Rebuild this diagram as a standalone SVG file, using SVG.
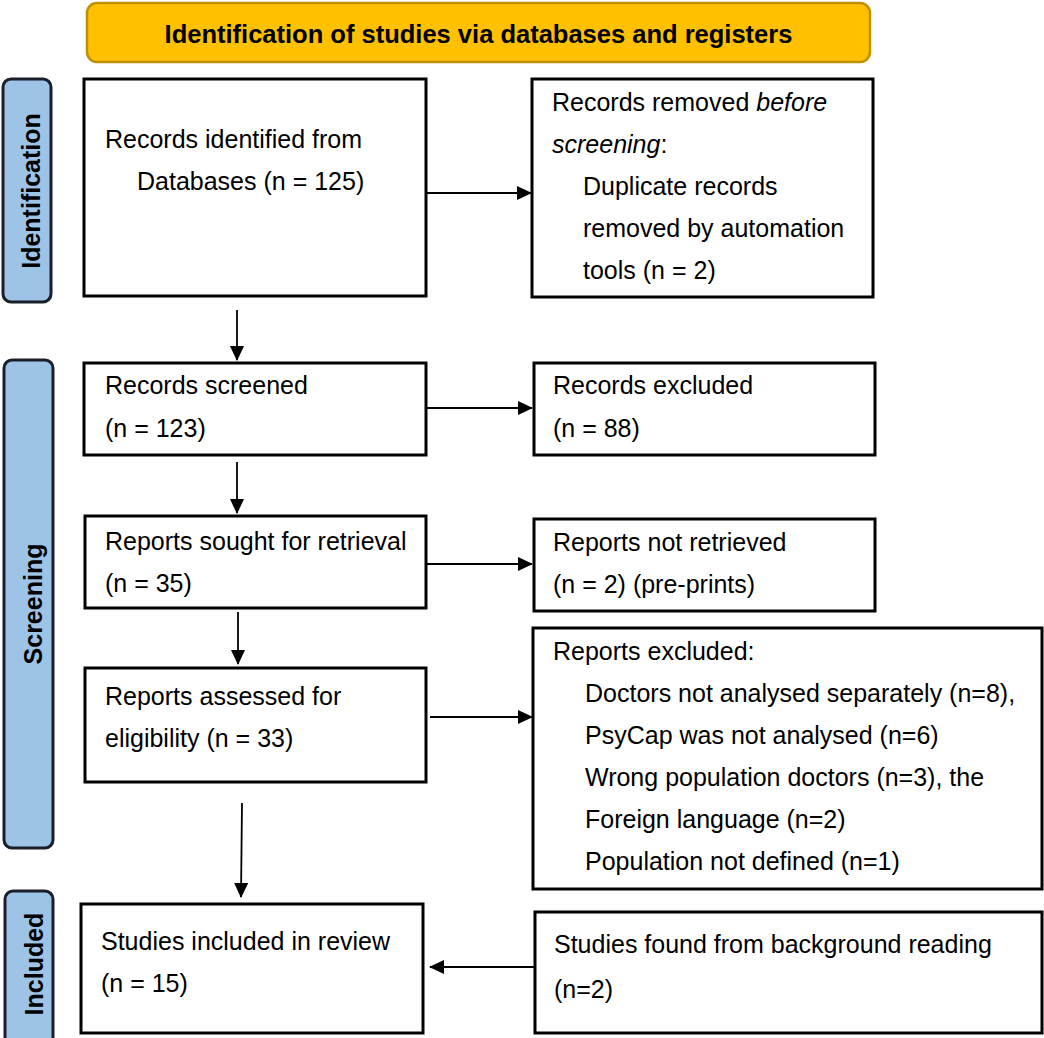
<svg xmlns="http://www.w3.org/2000/svg" width="1044" height="1038" viewBox="0 0 1044 1038">
<style>
text{font-family:"Liberation Sans",Arial,sans-serif;fill:#000}
.t{font-size:25px}
.hd{font-size:25.5px;font-weight:bold}
.side{font-size:25px;font-weight:bold}
.box{fill:#fff;stroke:#000;stroke-width:3}
.lab{fill:#9DC3E6;stroke:#1a1f2b;stroke-width:3}
.con{stroke:#000;stroke-width:1.8;fill:none}
</style>
<defs>
<marker id="ah" markerUnits="userSpaceOnUse" markerWidth="15" markerHeight="14" refX="14" refY="7" orient="auto">
<path d="M0,0 L15,7 L0,14 Z" fill="#000"/>
</marker>
</defs>
<rect width="1044" height="1038" fill="#fff"/>

<g id="header">
<rect x="87" y="3" width="783" height="59" rx="10" fill="#FFC000" stroke="#BF9000" stroke-width="2.5"/>
<text class="hd" x="478.5" y="43" text-anchor="middle">Identification of studies via databases and registers</text>
</g>

<g id="lab-identification">
<rect class="lab" x="3" y="79" width="48" height="223" rx="8"/>
<text class="side" transform="translate(40,191) rotate(-90)" text-anchor="middle">Identification</text>
</g>
<g id="lab-screening">
<rect class="lab" x="4" y="360" width="49" height="488" rx="8"/>
<text class="side" transform="translate(42,604) rotate(-90)" text-anchor="middle">Screening</text>
</g>
<g id="lab-included">
<rect class="lab" x="5" y="891" width="48" height="160" rx="8"/>
<text class="side" transform="translate(43,964) rotate(-90)" text-anchor="middle">Included</text>
</g>

<g id="n-identified">
<rect class="box" x="84" y="79" width="342" height="217"/>
<text class="t" x="105" y="148">Records identified from</text>
<text class="t" x="137" y="190">Databases (n = 125)</text>
</g>
<g id="n-removed">
<rect class="box" x="532" y="79" width="341" height="218"/>
<text class="t" x="552" y="111">Records removed <tspan font-style="italic">before</tspan></text>
<text class="t" x="552" y="153"><tspan font-style="italic">screening</tspan>:</text>
<text class="t" x="583" y="195">Duplicate records</text>
<text class="t" x="583" y="237">removed by automation</text>
<text class="t" x="583" y="279">tools (n = 2)</text>
</g>
<g id="n-screened">
<rect class="box" x="84" y="363" width="342" height="92"/>
<text class="t" x="105" y="394">Records screened</text>
<text class="t" x="105" y="437">(n = 123)</text>
</g>
<g id="n-excluded">
<rect class="box" x="534" y="363" width="341" height="92"/>
<text class="t" x="553" y="394">Records excluded</text>
<text class="t" x="553" y="437">(n = 88)</text>
</g>
<g id="n-sought">
<rect class="box" x="85" y="516" width="341" height="92"/>
<text class="t" x="105" y="550">Reports sought for retrieval</text>
<text class="t" x="105" y="592">(n = 35)</text>
</g>
<g id="n-notretrieved">
<rect class="box" x="534" y="519" width="341" height="92"/>
<text class="t" x="553" y="551">Reports not retrieved</text>
<text class="t" x="553" y="593">(n = 2) (pre-prints)</text>
</g>
<g id="n-assessed">
<rect class="box" x="85" y="668" width="341" height="114"/>
<text class="t" x="105" y="705">Reports assessed for</text>
<text class="t" x="105" y="747">eligibility (n = 33)</text>
</g>
<g id="n-repexcluded">
<rect class="box" x="533" y="628" width="509" height="261"/>
<text class="t" x="553" y="660">Reports excluded:</text>
<text class="t" x="585" y="702">Doctors not analysed separately (n=8),</text>
<text class="t" x="585" y="744">PsyCap was not analysed (n=6)</text>
<text class="t" x="585" y="786">Wrong population doctors (n=3), the</text>
<text class="t" x="585" y="828">Foreign language (n=2)</text>
<text class="t" x="585" y="870">Population not defined (n=1)</text>
</g>
<g id="n-included">
<rect class="box" x="81" y="904" width="342" height="129"/>
<text class="t" x="101" y="950">Studies included in review</text>
<text class="t" x="101" y="992">(n = 15)</text>
</g>
<g id="n-background">
<rect class="box" x="535" y="912" width="507" height="121"/>
<text class="t" x="554" y="953">Studies found from background reading</text>
<text class="t" x="554" y="998">(n=2)</text>
</g>

<g id="connectors">
<line class="con" x1="426" y1="193" x2="531" y2="193" marker-end="url(#ah)"/>
<line class="con" x1="237" y1="310" x2="237" y2="360" marker-end="url(#ah)"/>
<line class="con" x1="426" y1="408" x2="532" y2="408" marker-end="url(#ah)"/>
<line class="con" x1="237" y1="462" x2="237" y2="513" marker-end="url(#ah)"/>
<line class="con" x1="426" y1="564" x2="532" y2="564" marker-end="url(#ah)"/>
<line class="con" x1="238" y1="612" x2="238" y2="664" marker-end="url(#ah)"/>
<line class="con" x1="430" y1="717" x2="532" y2="717" marker-end="url(#ah)"/>
<line class="con" x1="242" y1="803" x2="241" y2="897" marker-end="url(#ah)"/>
<line class="con" x1="535" y1="967" x2="430" y2="967" marker-end="url(#ah)"/>
</g>
</svg>
